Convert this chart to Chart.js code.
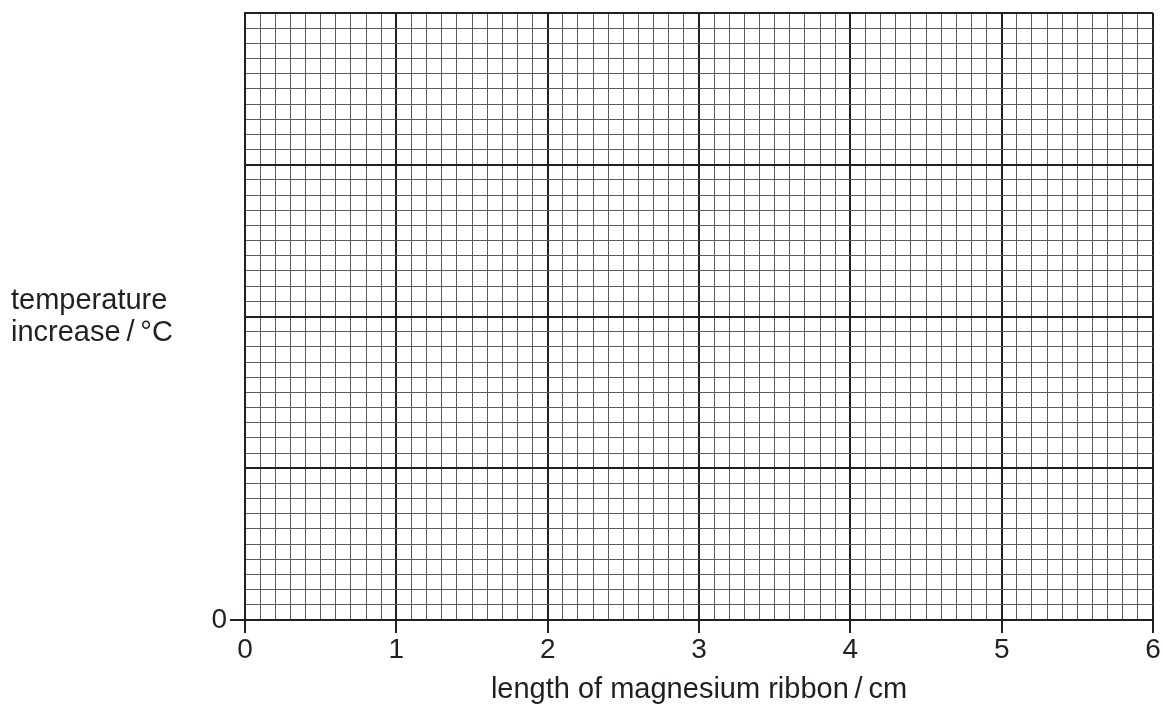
<!DOCTYPE html>
<html>
<head>
<meta charset="utf-8">
<script src="https://cdn.jsdelivr.net/npm/chart.js@4.4.1/dist/chart.umd.min.js"></script>
<style>
  html, body { margin: 0; padding: 0; background: #fff; }
  #wrap { width: 1163px; height: 707px; position: relative; }
</style>
</head>
<body>
<div id="wrap"><canvas id="c"></canvas></div>
<script>
// Axis ranges and labels (blank graph grid)
const xTickLabels = ['0', '1', '2', '3', '4', '5', '6'];
const yTickLabels = ['0'];
const xMax = 6;          // major x divisions
const yMax = 4;          // major y divisions
const minorPerMajor = 10;
const xTitle = 'length of magnesium ribbon\u2009/\u2009cm';
const yTitleLines = ['temperature', 'increase\u2009/\u2009\u00B0C'];
const points = [];       // no plotted data

const FONT = '"Liberation Sans", Arial, sans-serif';
const dark = '#231f20';
const minorCol = '#5c5c5c';

function isMajor(v) { return Math.abs(Math.round(v * minorPerMajor) % minorPerMajor) === 0; }

const titlesPlugin = {
  id: 'titles',
  afterDraw(chart) {
    const ctx = chart.ctx;
    const a = chart.chartArea;
    ctx.save();
    ctx.fillStyle = dark;
    ctx.font = '29px ' + FONT;
    ctx.textAlign = 'center';
    ctx.textBaseline = 'middle';
    ctx.fillText(xTitle, (a.left + a.right) / 2, 690);
    ctx.textAlign = 'left';
    ctx.fillText(yTitleLines[0], 11, 301);
    ctx.fillText(yTitleLines[1], 11, 333);
    ctx.restore();
  }
};

new Chart(document.getElementById('c'), {
  type: 'scatter',
  data: { datasets: [{ data: points, pointRadius: 0 }] },
  options: {
    responsive: true,
    maintainAspectRatio: false,
    animation: false,
    layout: { padding: { top: 13, right: 10, left: 0, bottom: 0 } },
    plugins: { legend: { display: false }, tooltip: { enabled: false } },
    scales: {
      x: {
        type: 'linear', min: 0, max: xMax,
        afterFit(s) { s.height = 87; s.paddingLeft = 0; s.paddingRight = 0; },
        border: { display: true, color: dark, width: 2 },
        grid: {
          color: c => isMajor(c.tick.value) ? dark : minorCol,
          lineWidth: c => isMajor(c.tick.value) ? 2 : 1,
          tickColor: c => isMajor(c.tick.value) ? dark : 'rgba(0,0,0,0)',
          tickWidth: 2,
          tickLength: 13,
          drawTicks: true
        },
        ticks: {
          stepSize: 1 / minorPerMajor,
          autoSkip: false,
          maxRotation: 0,
          padding: 0,
          color: dark,
          font: { family: FONT, size: 28 },
          callback: v => isMajor(v) ? (xTickLabels[Math.round(v)] ?? '') : ''
        }
      },
      y: {
        type: 'linear', min: 0, max: yMax,
        afterFit(s) { s.width = 245; s.paddingTop = 0; s.paddingBottom = 0; },
        border: { display: true, color: dark, width: 2 },
        grid: {
          color: c => isMajor(c.tick.value) ? dark : minorCol,
          lineWidth: c => isMajor(c.tick.value) ? 2 : 1,
          tickColor: c => (Math.abs(c.tick.value) < 1e-9) ? dark : 'rgba(0,0,0,0)',
          tickWidth: 2,
          tickLength: 15,
          drawTicks: true
        },
        ticks: {
          stepSize: 1 / minorPerMajor,
          autoSkip: false,
          padding: 3,
          color: dark,
          font: { family: FONT, size: 28 },
          callback: v => (Math.abs(v) < 1e-9) ? yTickLabels[0] : ''
        }
      }
    }
  },
  plugins: [titlesPlugin]
});
</script>
</body>
</html>
